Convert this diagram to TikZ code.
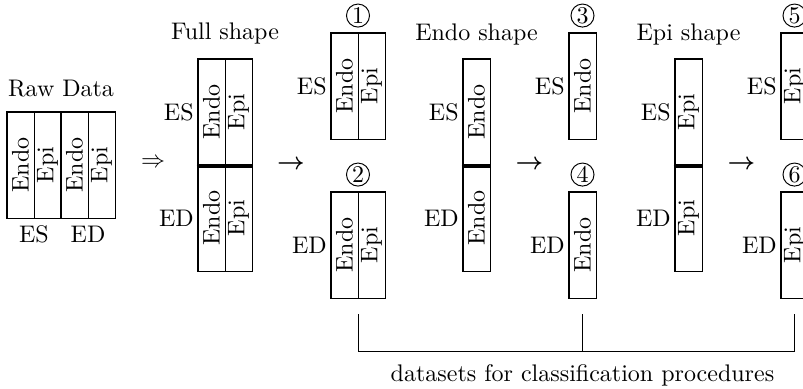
\documentclass[tikz,border=0pt]{standalone}
\usepackage{amsmath}
\usetikzlibrary{fit,calc}

\tikzset{
  % one column of a data block, text running upwards
  cell/.style={draw, line width=0.4pt, rotate=90, inner sep=0pt,
    minimum width=44.17pt, minimum height=11.25pt},
  % thick outline round a group of cells
  frame/.style={draw, line width=0.8pt, inner sep=0pt},
  divider/.style={line width=1.2pt},
  side/.style={anchor=east, inner sep=1pt},
  title/.style={anchor=base, inner sep=0pt},
  numcirc/.style={circle, draw, line width=0.4pt, inner sep=0pt,
    minimum size=9.6pt},
  glyph/.style={inner sep=0pt},
  bracketline/.style={line width=0.4pt},
}

\begin{document}
\begin{tikzpicture}[x=0.41667pt, y=-0.41667pt]
\useasboundingbox (0,0) rectangle (803,389);
\clip (0,0) rectangle (803,389);

% ---------------- raw data ----------------
\node[title] (rawtitle) at (61,96) {Raw Data};
\node[cell] (rawESendo) at (20.5,165) {Endo};
\node[cell] (rawESepi)  at (47.5,165) {Epi};
\node[cell] (rawEDendo) at (74.5,165) {Endo};
\node[cell] (rawEDepi)  at (101.5,165) {Epi};
\node[frame, fit=(rawESendo)(rawESepi)] (rawES) {};
\node[frame, fit=(rawEDendo)(rawEDepi)] (rawED) {};
\node[title] (rawESlbl) at (34,242) {ES};
\node[title] (rawEDlbl) at (88,242) {ED};

\node[glyph] (implies) at (153,163) {$\Rightarrow$};

% ---------------- full shape ----------------
\node[title] (fulltitle) at (225,39) {Full shape};
\node[cell] (fullESendo) at (211.5,112) {Endo};
\node[cell] (fullESepi)  at (238.5,112) {Epi};
\node[cell] (fullEDendo) at (211.5,218) {Endo};
\node[cell] (fullEDepi)  at (238.5,218) {Epi};
\node[frame, fit=(fullESendo)(fullESepi)] (fullES) {};
\node[frame, fit=(fullEDendo)(fullEDepi)] (fullED) {};
\draw[divider] (fullES.south west) -- (fullES.south east);
\node[side] (fullESlbl) at (fullES.west) {ES};
\node[side] (fullEDlbl) at (fullED.west) {ED};

\node[glyph] (step1) at (291,165) {$\boldsymbol{\rightarrow}$};

% datasets 1 and 2
\node[cell] (setAendo) at (344.5,86) {Endo};
\node[cell] (setAepi)  at (371.5,86) {Epi};
\node[frame, fit=(setAendo)(setAepi)] (setA) {};
\node[side] (setAlbl) at (setA.west) {ES};
\node[numcirc, anchor=south] (numA) at ($(setA.north)+(0,-4)$) {1};

\node[cell] (setBendo) at (344.5,245) {Endo};
\node[cell] (setBepi)  at (371.5,245) {Epi};
\node[frame, fit=(setBendo)(setBepi)] (setB) {};
\node[side] (setBlbl) at (setB.west) {ED};
\node[numcirc, anchor=south] (numB) at ($(setB.north)+(0,-4)$) {2};

% ---------------- endo shape ----------------
\node[title] (endotitle) at (476.5,40) {Endo shape};
\node[cell] (endoESc) at (476.5,112) {Endo};
\node[cell] (endoEDc) at (476.5,218) {Endo};
\node[frame, fit=(endoESc)] (endoES) {};
\node[frame, fit=(endoEDc)] (endoED) {};
\draw[divider] (endoES.south west) -- (endoES.south east);
\node[side] (endoESlbl) at (endoES.west) {ES};
\node[side] (endoEDlbl) at (endoED.west) {ED};

\node[glyph] (step2) at (529.5,165) {$\boldsymbol{\rightarrow}$};

% datasets 3 and 4
\node[cell] (setCc) at (582.5,86) {Endo};
\node[frame, fit=(setCc)] (setC) {};
\node[side] (setClbl) at (setC.west) {ES};
\node[numcirc, anchor=south] (numC) at ($(setC.north)+(0,-4)$) {3};

\node[cell] (setDc) at (582.5,245) {Endo};
\node[frame, fit=(setDc)] (setD) {};
\node[side] (setDlbl) at (setD.west) {ED};
\node[numcirc, anchor=south] (numD) at ($(setD.north)+(0,-4)$) {4};

% ---------------- epi shape ----------------
\node[title] (epititle) at (688.5,40) {Epi shape};
\node[cell] (epiESc) at (688.5,112) {Epi};
\node[cell] (epiEDc) at (688.5,218) {Epi};
\node[frame, fit=(epiESc)] (epiES) {};
\node[frame, fit=(epiEDc)] (epiED) {};
\draw[divider] (epiES.south west) -- (epiES.south east);
\node[side] (epiESlbl) at (epiES.west) {ES};
\node[side] (epiEDlbl) at (epiED.west) {ED};

\node[glyph] (step3) at (741.5,165) {$\boldsymbol{\rightarrow}$};

% datasets 5 and 6
\node[cell] (setEc) at (794.5,86) {Epi};
\node[frame, fit=(setEc)] (setE) {};
\node[side] (setElbl) at (setE.west) {ES};
\node[numcirc, anchor=south] (numE) at ($(setE.north)+(0,-4)$) {5};

\node[cell] (setFc) at (794.5,245) {Epi};
\node[frame, fit=(setFc)] (setF) {};
\node[side] (setFlbl) at (setF.west) {ED};
\node[numcirc, anchor=south] (numF) at ($(setF.north)+(0,-4)$) {6};

% ---------------- bracket under the datasets ----------------
\coordinate (brA) at ($(setB.south)+(0,15)$);
\coordinate (brD) at ($(setD.south)+(0,15)$);
\coordinate (brF) at ($(setF.south)+(0,15)$);
\draw[bracketline] (brA) -- ++(0,37) -| (brF);
\draw[bracketline] (brD) -- ++(0,37);
\node[title] (datasets) at ($(brD)+(0,67)$) {datasets for classification procedures};
\end{tikzpicture}
\end{document}
